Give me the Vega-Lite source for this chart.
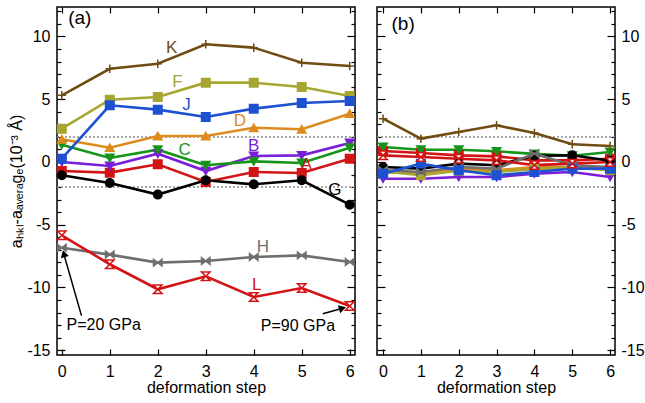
{
  "$schema": "https://vega.github.io/schema/vega-lite/v6.json",
  "padding": {"left": 8, "top": 2, "right": 4, "bottom": 8},
  "background": "white",
  "spacing": 22,
  "bounds": "flush",
  "config": {
    "font": "Liberation Sans",
    "view": {"stroke": "black", "strokeWidth": 1.5},
    "axis": {"domain": false, "grid": false, "tickColor": "black", "tickWidth": 1.2, "labelFont": "Liberation Sans", "labelFontSize": 16, "labelColor": "black", "titleFont": "Liberation Sans", "titleFontSize": 16, "titleFontWeight": "normal", "titleColor": "black", "labelFlush": false, "labelOverlap": false}
  },
  "datasets": {
    "a": [
      {"series": "A", "step": 0, "value": -0.72}, {"series": "A", "step": 1, "value": -0.85}, {"series": "A", "step": 2, "value": -0.18}, {"series": "A", "step": 3, "value": -1.59}, {"series": "A", "step": 4, "value": -0.8}, {"series": "A", "step": 5, "value": -0.88}, {"series": "A", "step": 6, "value": 0.26},
      {"series": "B", "step": 0, "value": 0.0}, {"series": "B", "step": 1, "value": -0.32}, {"series": "B", "step": 2, "value": 0.66}, {"series": "B", "step": 3, "value": -0.72}, {"series": "B", "step": 4, "value": 0.48}, {"series": "B", "step": 5, "value": 0.53}, {"series": "B", "step": 6, "value": 1.51},
      {"series": "C", "step": 0, "value": 1.38}, {"series": "C", "step": 1, "value": 0.32}, {"series": "C", "step": 2, "value": 0.98}, {"series": "C", "step": 3, "value": -0.26}, {"series": "C", "step": 4, "value": 0.05}, {"series": "C", "step": 5, "value": -0.08}, {"series": "C", "step": 6, "value": 1.14},
      {"series": "D", "step": 0, "value": 1.81}, {"series": "D", "step": 1, "value": 1.14}, {"series": "D", "step": 2, "value": 2.07}, {"series": "D", "step": 3, "value": 2.07}, {"series": "D", "step": 4, "value": 2.73}, {"series": "D", "step": 5, "value": 2.61}, {"series": "D", "step": 6, "value": 3.85},
      {"series": "F", "step": 0, "value": 2.65}, {"series": "F", "step": 1, "value": 4.96}, {"series": "F", "step": 2, "value": 5.18}, {"series": "F", "step": 3, "value": 6.32}, {"series": "F", "step": 4, "value": 6.32}, {"series": "F", "step": 5, "value": 5.98}, {"series": "F", "step": 6, "value": 5.26},
      {"series": "G", "step": 0, "value": -1.06}, {"series": "G", "step": 1, "value": -1.67}, {"series": "G", "step": 2, "value": -2.6}, {"series": "G", "step": 3, "value": -1.46}, {"series": "G", "step": 4, "value": -1.78}, {"series": "G", "step": 5, "value": -1.46}, {"series": "G", "step": 6, "value": -3.4},
      {"series": "H", "step": 0, "value": -6.83}, {"series": "H", "step": 1, "value": -7.38}, {"series": "H", "step": 2, "value": -8.02}, {"series": "H", "step": 3, "value": -7.89}, {"series": "H", "step": 4, "value": -7.57}, {"series": "H", "step": 5, "value": -7.44}, {"series": "H", "step": 6, "value": -7.97},
      {"series": "J", "step": 0, "value": 0.26}, {"series": "J", "step": 1, "value": 4.52}, {"series": "J", "step": 2, "value": 4.17}, {"series": "J", "step": 3, "value": 3.59}, {"series": "J", "step": 4, "value": 4.25}, {"series": "J", "step": 5, "value": 4.7}, {"series": "J", "step": 6, "value": 4.86},
      {"series": "K", "step": 0, "value": 5.31}, {"series": "K", "step": 1, "value": 7.43}, {"series": "K", "step": 2, "value": 7.83}, {"series": "K", "step": 3, "value": 9.38}, {"series": "K", "step": 4, "value": 9.11}, {"series": "K", "step": 5, "value": 7.91}, {"series": "K", "step": 6, "value": 7.65},
      {"series": "L", "step": 0, "value": -5.84}, {"series": "L", "step": 1, "value": -8.15}, {"series": "L", "step": 2, "value": -10.14}, {"series": "L", "step": 3, "value": -9.11}, {"series": "L", "step": 4, "value": -10.76}, {"series": "L", "step": 5, "value": -10.04}, {"series": "L", "step": 6, "value": -11.47}
    ],
    "b": [
      {"series": "A", "step": 0, "value": 0.88}, {"series": "A", "step": 1, "value": 0.72}, {"series": "A", "step": 2, "value": 0.53}, {"series": "A", "step": 3, "value": 0.45}, {"series": "A", "step": 4, "value": 0.13}, {"series": "A", "step": 5, "value": 0.13}, {"series": "A", "step": 6, "value": 0.26},
      {"series": "B", "step": 0, "value": -1.33}, {"series": "B", "step": 1, "value": -1.33}, {"series": "B", "step": 2, "value": -1.2}, {"series": "B", "step": 3, "value": -1.2}, {"series": "B", "step": 4, "value": -0.93}, {"series": "B", "step": 5, "value": -0.8}, {"series": "B", "step": 6, "value": -1.2},
      {"series": "C", "step": 0, "value": 1.2}, {"series": "C", "step": 1, "value": 0.98}, {"series": "C", "step": 2, "value": 0.98}, {"series": "C", "step": 3, "value": 0.85}, {"series": "C", "step": 4, "value": 0.65}, {"series": "C", "step": 5, "value": 0.5}, {"series": "C", "step": 6, "value": 0.8},
      {"series": "D", "step": 0, "value": -0.8}, {"series": "D", "step": 1, "value": -0.9}, {"series": "D", "step": 2, "value": -0.53}, {"series": "D", "step": 3, "value": -0.66}, {"series": "D", "step": 4, "value": -0.4}, {"series": "D", "step": 5, "value": -0.4}, {"series": "D", "step": 6, "value": -0.45},
      {"series": "F", "step": 0, "value": -0.75}, {"series": "F", "step": 1, "value": -1.06}, {"series": "F", "step": 2, "value": -0.7}, {"series": "F", "step": 3, "value": -0.8}, {"series": "F", "step": 4, "value": -0.55}, {"series": "F", "step": 5, "value": -0.45}, {"series": "F", "step": 6, "value": -0.66},
      {"series": "G", "step": 0, "value": -0.4}, {"series": "G", "step": 1, "value": -0.53}, {"series": "G", "step": 2, "value": -0.13}, {"series": "G", "step": 3, "value": -0.26}, {"series": "G", "step": 4, "value": 0.5}, {"series": "G", "step": 5, "value": 0.53}, {"series": "G", "step": 6, "value": 0.1},
      {"series": "H", "step": 0, "value": -0.64}, {"series": "H", "step": 1, "value": -0.8}, {"series": "H", "step": 2, "value": -0.4}, {"series": "H", "step": 3, "value": -0.53}, {"series": "H", "step": 4, "value": 0.66}, {"series": "H", "step": 5, "value": -0.26}, {"series": "H", "step": 6, "value": -0.4},
      {"series": "J", "step": 0, "value": -0.93}, {"series": "J", "step": 1, "value": -0.13}, {"series": "J", "step": 2, "value": -0.66}, {"series": "J", "step": 3, "value": -1.06}, {"series": "J", "step": 4, "value": -0.8}, {"series": "J", "step": 5, "value": -0.53}, {"series": "J", "step": 6, "value": -0.53},
      {"series": "K", "step": 0, "value": 3.45}, {"series": "K", "step": 1, "value": 1.86}, {"series": "K", "step": 2, "value": 2.39}, {"series": "K", "step": 3, "value": 2.92}, {"series": "K", "step": 4, "value": 2.31}, {"series": "K", "step": 5, "value": 1.41}, {"series": "K", "step": 6, "value": 1.27},
      {"series": "L", "step": 0, "value": 0.53}, {"series": "L", "step": 1, "value": 0.4}, {"series": "L", "step": 2, "value": 0.26}, {"series": "L", "step": 3, "value": 0.13}, {"series": "L", "step": 4, "value": -0.25}, {"series": "L", "step": 5, "value": -0.13}, {"series": "L", "step": 6, "value": 0.0}
    ],
    "labA": [
      {"series": "K", "x": 2.29, "y": 9.11}, {"series": "F", "x": 2.41, "y": 6.37}, {"series": "J", "x": 2.6, "y": 4.52}, {"series": "D", "x": 3.71, "y": 3.27}, {"series": "B", "x": 4.0, "y": 1.27}, {"series": "C", "x": 2.56, "y": 0.93}, {"series": "A", "x": 5.1, "y": -0.26}, {"series": "G", "x": 5.69, "y": -2.26}, {"series": "H", "x": 4.19, "y": -6.77}, {"series": "L", "x": 4.06, "y": -9.83}
    ]
  },
  "hconcat": [
    {
      "width": 298,
      "height": 348,
      "resolve": {"axis": {"x": "independent", "y": "independent"}},
      "layer": [
        {
          "data": {"values": [{"lvl": 2}, {"lvl": -2}]},
          "mark": {"type": "rule", "color": "#8c8c8c", "strokeDash": [2, 2], "strokeWidth": 1.5},
          "encoding": {"y": {"field": "lvl", "type": "quantitative", "scale": {"domain": [-15.38, 12.35], "nice": false, "zero": false}, "axis": null}}
        },
        {
          "data": {"name": "a"},
          "mark": {"type": "line", "strokeWidth": 2.6},
          "encoding": {
            "x": {"field": "step", "type": "quantitative", "scale": {"domain": [-0.1, 6.11], "nice": false, "zero": false},
              "axis": {"orient": "bottom", "values": [0, 1, 2, 3, 4, 5, 6], "tickSize": -6, "labelPadding": 14, "title": "deformation step", "titlePadding": 0}},
            "y": {"field": "value", "type": "quantitative", "scale": {"domain": [-15.38, 12.35], "nice": false, "zero": false},
              "axis": {"orient": "left", "values": [-15, -14, -13, -12, -11, -10, -9, -8, -7, -6, -5, -4, -3, -2, -1, 0, 1, 2, 3, 4, 5, 6, 7, 8, 9, 10, 11, 12],
                "tickSize": {"condition": {"test": "datum.value % 5 === 0", "value": -8}, "value": -4},
                "labelExpr": "datum.value % 5 === 0 ? '' + datum.value : ''", "labelPadding": 15, "title": "aₕₖₗ-aₐᵥₑᵣₐgₑ(10⁻³ Å)", "titlePadding": 2}},
            "color": {"field": "series", "type": "nominal", "scale": {"domain": ["A", "B", "C", "D", "F", "G", "H", "J", "K", "L"], "range": ["#d21414", "#7a1ed8", "#17951a", "#dd8b1e", "#a6a630", "#000000", "#6f6f6f", "#1e50d2", "#704c12", "#d21414"]}, "legend": null}
          }
        },
        {
          "data": {"name": "a"},
          "mark": {"type": "point", "filled": true, "size": 72, "strokeWidth": 1.5, "opacity": 1},
          "encoding": {
            "x": {"field": "step", "type": "quantitative", "scale": {"domain": [-0.1, 6.11], "nice": false, "zero": false},
              "axis": {"orient": "top", "values": [0, 1, 2, 3, 4, 5, 6], "tickSize": -6, "labels": false, "title": null}},
            "y": {"field": "value", "type": "quantitative", "scale": {"domain": [-15.38, 12.35], "nice": false, "zero": false},
              "axis": {"orient": "right", "values": [-15, -14, -13, -12, -11, -10, -9, -8, -7, -6, -5, -4, -3, -2, -1, 0, 1, 2, 3, 4, 5, 6, 7, 8, 9, 10, 11, 12],
                "tickSize": {"condition": {"test": "datum.value % 5 === 0", "value": -8}, "value": -4}, "labels": false, "title": null}},
            "fill": {"field": "series", "type": "nominal", "scale": {"domain": ["A", "B", "C", "D", "F", "G", "H", "J", "K", "L"], "range": ["#d21414", "#7a1ed8", "#17951a", "#dd8b1e", "#a6a630", "#000000", "#6f6f6f", "#1e50d2", "transparent", "white"]}, "legend": null},
            "stroke": {"field": "series", "type": "nominal", "scale": {"domain": ["A", "B", "C", "D", "F", "G", "H", "J", "K", "L"], "range": ["#d21414", "#7a1ed8", "#17951a", "#dd8b1e", "#a6a630", "#000000", "#6f6f6f", "#1e50d2", "#704c12", "#d21414"]}, "legend": null},
            "shape": {"field": "series", "type": "nominal", "scale": {"domain": ["A", "B", "C", "D", "F", "G", "H", "J", "K", "L"], "range": ["square", "triangle-down", "triangle-down", "triangle-up", "square", "circle", "M-1,-0.8L0,0L-1,0.8ZM1,-0.8L0,0L1,0.8Z", "square", "M-1,0L1,0M0,-1L0,1", "M-1,-1L1,-1L-1,1L1,1Z"]}, "legend": null}
          }
        },
        {
          "data": {"name": "labA"},
          "mark": {"type": "text", "fontSize": 17, "font": "Liberation Sans"},
          "encoding": {
            "x": {"field": "x", "type": "quantitative", "scale": {"domain": [-0.1, 6.11], "nice": false, "zero": false}, "axis": null},
            "y": {"field": "y", "type": "quantitative", "scale": {"domain": [-15.38, 12.35], "nice": false, "zero": false}, "axis": null},
            "text": {"field": "series"},
            "color": {"field": "series", "type": "nominal", "legend": null}
          }
        },
        {
          "data": {"values": [{"t": "P=20 GPa", "x": 0.1, "y": -12.96}]},
          "mark": {"type": "text", "fontSize": 16, "align": "left", "color": "black"},
          "encoding": {
            "x": {"field": "x", "type": "quantitative", "axis": null},
            "y": {"field": "y", "type": "quantitative", "axis": null},
            "text": {"field": "t"}
          }
        },
        {
          "data": {"values": [{"t": "P=90 GPa", "x": 4.92, "y": -13.07}]},
          "mark": {"type": "text", "fontSize": 16, "align": "center", "color": "black"},
          "encoding": {
            "x": {"field": "x", "type": "quantitative", "axis": null},
            "y": {"field": "y", "type": "quantitative", "axis": null},
            "text": {"field": "t"}
          }
        },
        {
          "data": {"values": [{"x1": 0.41, "y1": -12.24, "x2": 0.04, "y2": -7.3}, {"x1": 5.44, "y1": -12.09, "x2": 5.85, "y2": -11.65}]},
          "mark": {"type": "rule", "color": "black", "strokeWidth": 1.5},
          "encoding": {
            "x": {"field": "x1", "type": "quantitative", "axis": null},
            "y": {"field": "y1", "type": "quantitative", "axis": null},
            "x2": {"field": "x2"},
            "y2": {"field": "y2"}
          }
        },
        {
          "data": {"values": [{"x": 0.043, "y": -7.31}]},
          "mark": {"type": "point", "shape": "triangle-up", "filled": true, "color": "black", "size": 70, "angle": 344, "opacity": 1},
          "encoding": {
            "x": {"field": "x", "type": "quantitative", "axis": null},
            "y": {"field": "y", "type": "quantitative", "axis": null}
          }
        },
        {
          "data": {"values": [{"x": 5.85, "y": -11.65}]},
          "mark": {"type": "point", "shape": "triangle-up", "filled": true, "color": "black", "size": 70, "angle": 74, "opacity": 1},
          "encoding": {
            "x": {"field": "x", "type": "quantitative", "axis": null},
            "y": {"field": "y", "type": "quantitative", "axis": null}
          }
        },
        {
          "data": {"values": [{"t": "(a)", "x": 0.375, "y": 11.47}]},
          "mark": {"type": "text", "fontSize": 19, "align": "center", "color": "black"},
          "encoding": {
            "x": {"field": "x", "type": "quantitative", "axis": null},
            "y": {"field": "y", "type": "quantitative", "axis": null},
            "text": {"field": "t"}
          }
        }
      ]
    },
    {
      "width": 238,
      "height": 348,
      "resolve": {"axis": {"x": "independent", "y": "independent"}},
      "layer": [
        {
          "data": {"values": [{"lvl": 2}, {"lvl": -2}]},
          "mark": {"type": "rule", "color": "#8c8c8c", "strokeDash": [2, 2], "strokeWidth": 1.5},
          "encoding": {"y": {"field": "lvl", "type": "quantitative", "scale": {"domain": [-15.38, 12.35], "nice": false, "zero": false}, "axis": null}}
        },
        {
          "data": {"name": "b"},
          "mark": {"type": "line", "strokeWidth": 2.6},
          "encoding": {
            "x": {"field": "step", "type": "quantitative", "scale": {"domain": [-0.16, 6.13], "nice": false, "zero": false},
              "axis": {"orient": "bottom", "values": [0, 1, 2, 3, 4, 5, 6], "tickSize": -6, "labelPadding": 14, "title": "deformation step", "titlePadding": 0}},
            "y": {"field": "value", "type": "quantitative", "scale": {"domain": [-15.38, 12.35], "nice": false, "zero": false},
              "axis": {"orient": "right", "values": [-15, -14, -13, -12, -11, -10, -9, -8, -7, -6, -5, -4, -3, -2, -1, 0, 1, 2, 3, 4, 5, 6, 7, 8, 9, 10, 11, 12],
                "tickSize": {"condition": {"test": "datum.value % 5 === 0", "value": -8}, "value": -4},
                "labelExpr": "datum.value % 5 === 0 ? '' + datum.value : ''", "labelPadding": 14, "title": null}},
            "color": {"field": "series", "type": "nominal", "scale": {"domain": ["A", "B", "C", "D", "F", "G", "H", "J", "K", "L"], "range": ["#d21414", "#7a1ed8", "#17951a", "#dd8b1e", "#a6a630", "#000000", "#6f6f6f", "#1e50d2", "#704c12", "#d21414"]}, "legend": null}
          }
        },
        {
          "data": {"name": "b"},
          "mark": {"type": "point", "filled": true, "size": 72, "strokeWidth": 1.5, "opacity": 1},
          "encoding": {
            "x": {"field": "step", "type": "quantitative", "scale": {"domain": [-0.16, 6.13], "nice": false, "zero": false},
              "axis": {"orient": "top", "values": [0, 1, 2, 3, 4, 5, 6], "tickSize": -6, "labels": false, "title": null}},
            "y": {"field": "value", "type": "quantitative", "scale": {"domain": [-15.38, 12.35], "nice": false, "zero": false},
              "axis": {"orient": "left", "values": [-15, -14, -13, -12, -11, -10, -9, -8, -7, -6, -5, -4, -3, -2, -1, 0, 1, 2, 3, 4, 5, 6, 7, 8, 9, 10, 11, 12],
                "tickSize": {"condition": {"test": "datum.value % 5 === 0", "value": -8}, "value": -4}, "labels": false, "title": null}},
            "fill": {"field": "series", "type": "nominal", "scale": {"domain": ["A", "B", "C", "D", "F", "G", "H", "J", "K", "L"], "range": ["#d21414", "#7a1ed8", "#17951a", "#dd8b1e", "#a6a630", "#000000", "#6f6f6f", "#1e50d2", "transparent", "white"]}, "legend": null},
            "stroke": {"field": "series", "type": "nominal", "scale": {"domain": ["A", "B", "C", "D", "F", "G", "H", "J", "K", "L"], "range": ["#d21414", "#7a1ed8", "#17951a", "#dd8b1e", "#a6a630", "#000000", "#6f6f6f", "#1e50d2", "#704c12", "#d21414"]}, "legend": null},
            "shape": {"field": "series", "type": "nominal", "scale": {"domain": ["A", "B", "C", "D", "F", "G", "H", "J", "K", "L"], "range": ["square", "triangle-down", "triangle-down", "triangle-up", "square", "circle", "M-1,-0.8L0,0L-1,0.8ZM1,-0.8L0,0L1,0.8Z", "square", "M-1,0L1,0M0,-1L0,1", "M-1,-1L1,-1L-1,1L1,1Z"]}, "legend": null}
          }
        },
        {
          "data": {"values": [{"t": "(b)", "x": 0.53, "y": 11.0}]},
          "mark": {"type": "text", "fontSize": 19, "align": "center", "color": "black"},
          "encoding": {
            "x": {"field": "x", "type": "quantitative", "axis": null},
            "y": {"field": "y", "type": "quantitative", "axis": null},
            "text": {"field": "t"}
          }
        }
      ]
    }
  ]
}
